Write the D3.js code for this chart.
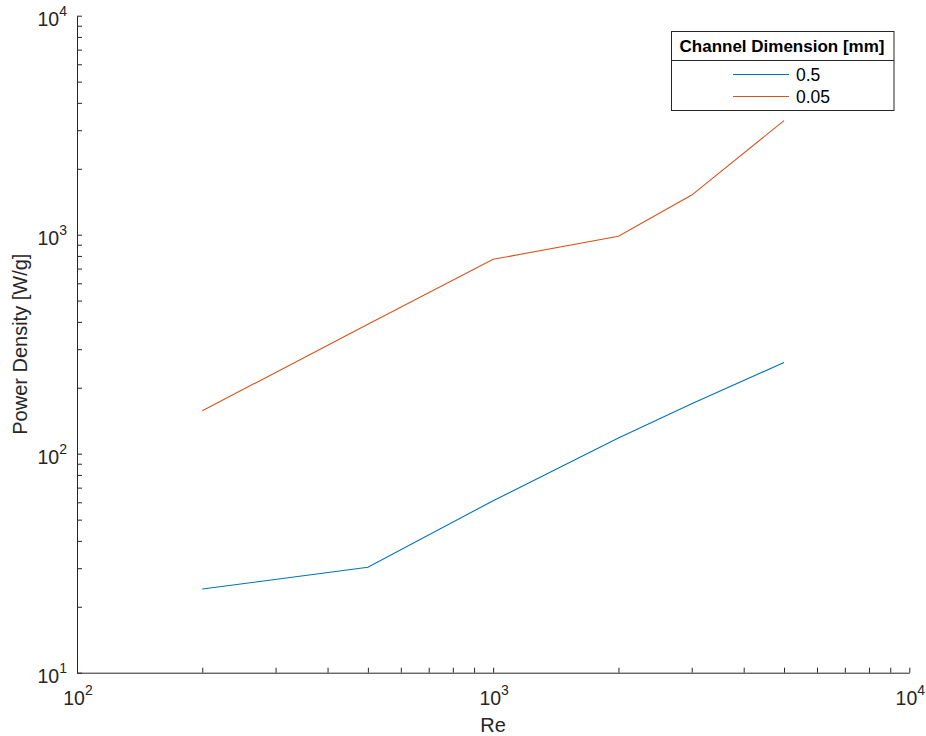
<!DOCTYPE html>
<html>
<head>
<meta charset="utf-8">
<script src="https://cdn.jsdelivr.net/npm/d3@7"></script>
<style>
  html, body { margin: 0; padding: 0; background: #fff; }
  svg { display: block; font-family: "Liberation Sans", Arial, Helvetica, sans-serif; }
</style>
</head>
<body>
<svg id="chart" width="926" height="736"></svg>
<script>
// Reynolds numbers sampled
const reynolds = [200, 500, 1000, 2000, 3000, 5000];
// Power density [W/g] for each channel dimension
const density05 = [24.1, 30.3, 61, 118, 169, 261];
const density005 = [157, 390, 772, 984, 1517, 3319];
const seriesNames = ["0.5", "0.05"];
const seriesColors = ["#0072BD", "#D95319"];
const xDecades = [100, 1000, 10000];
const yDecades = [10, 100, 1000, 10000];

const svg = d3.select("#chart");
const axisColor = "#262626";

const x = d3.scaleLog().domain([100, 10000]).range([77, 909.3]);
const y = d3.scaleLog().domain([10, 10000]).range([672.7, 15.7]);

// x axis with inward ticks
const xAxis = svg.append("g")
  .attr("transform", `translate(0,${y.range()[0]})`)
  .call(d3.axisBottom(x).tickValues(x.ticks()).tickSizeInner(-5).tickSizeOuter(0).tickFormat(""));
xAxis.select(".domain").attr("stroke", axisColor);
xAxis.selectAll(".tick line").attr("stroke", axisColor);

// y axis with inward ticks
const yAxis = svg.append("g")
  .attr("transform", `translate(${x.range()[0]},0)`)
  .call(d3.axisLeft(y).tickValues(y.ticks()).tickSizeInner(-5).tickSizeOuter(0).tickFormat(""));
yAxis.select(".domain").attr("stroke", axisColor);
yAxis.selectAll(".tick line").attr("stroke", axisColor);

// power-of-ten labels
function powLabel(g, v) {
  const e = Math.round(Math.log10(v));
  g.append("tspan").text("10");
  g.append("tspan").attr("dy", -10).attr("font-size", 14).text(e);
}

svg.append("g").selectAll("text").data(xDecades).join("text")
  .attr("x", d => x(d) + 1)
  .attr("y", 705)
  .attr("text-anchor", "middle")
  .attr("font-size", 19.5)
  .attr("fill", axisColor)
  .each(function(d) { powLabel(d3.select(this), d); });

svg.append("g").selectAll("text").data(yDecades).join("text")
  .attr("x", 67)
  .attr("y", d => y(d) + 10.6)
  .attr("text-anchor", "end")
  .attr("font-size", 19.5)
  .attr("fill", axisColor)
  .each(function(d) { powLabel(d3.select(this), d); });

// axis titles
svg.append("text")
  .attr("x", (x.range()[0] + x.range()[1]) / 2)
  .attr("y", 731.5)
  .attr("text-anchor", "middle")
  .attr("font-size", 20)
  .attr("fill", axisColor)
  .text("Re");

svg.append("text")
  .attr("transform", `translate(26.7,${(y.range()[0] + y.range()[1]) / 2}) rotate(-90)`)
  .attr("text-anchor", "middle")
  .attr("font-size", 20)
  .attr("fill", axisColor)
  .text("Power Density [W/g]");

// series lines
const line = d3.line().x(d => x(d[0])).y(d => y(d[1]));
const series = [density05, density005];
series.forEach((vals, i) => {
  svg.append("path")
    .datum(reynolds.map((r, j) => [r, vals[j]]))
    .attr("fill", "none")
    .attr("stroke", seriesColors[i])
    .attr("stroke-width", 1.1)
    .attr("d", line);
});

// legend
const lg = svg.append("g");
lg.append("rect")
  .attr("x", 671.5).attr("y", 31.5).attr("width", 222.5).attr("height", 79)
  .attr("fill", "#fff").attr("stroke", axisColor).attr("stroke-width", 1);
lg.append("line")
  .attr("x1", 671.5).attr("x2", 894).attr("y1", 60.5).attr("y2", 60.5)
  .attr("stroke", axisColor).attr("stroke-width", 1);
lg.append("text")
  .attr("x", 782).attr("y", 52.3)
  .attr("text-anchor", "middle")
  .attr("font-size", 17)
  .attr("font-weight", "bold")
  .attr("fill", "#000")
  .text("Channel Dimension [mm]");
const entryY = [74.5, 96.5];
seriesNames.forEach((name, i) => {
  lg.append("line")
    .attr("x1", 733).attr("x2", 789).attr("y1", entryY[i]).attr("y2", entryY[i])
    .attr("stroke", seriesColors[i]).attr("stroke-width", 1.1);
  lg.append("text")
    .attr("x", 796).attr("y", entryY[i] + 6.3)
    .attr("font-size", 17.5)
    .attr("fill", "#000")
    .text(name);
});
</script>
</body>
</html>
